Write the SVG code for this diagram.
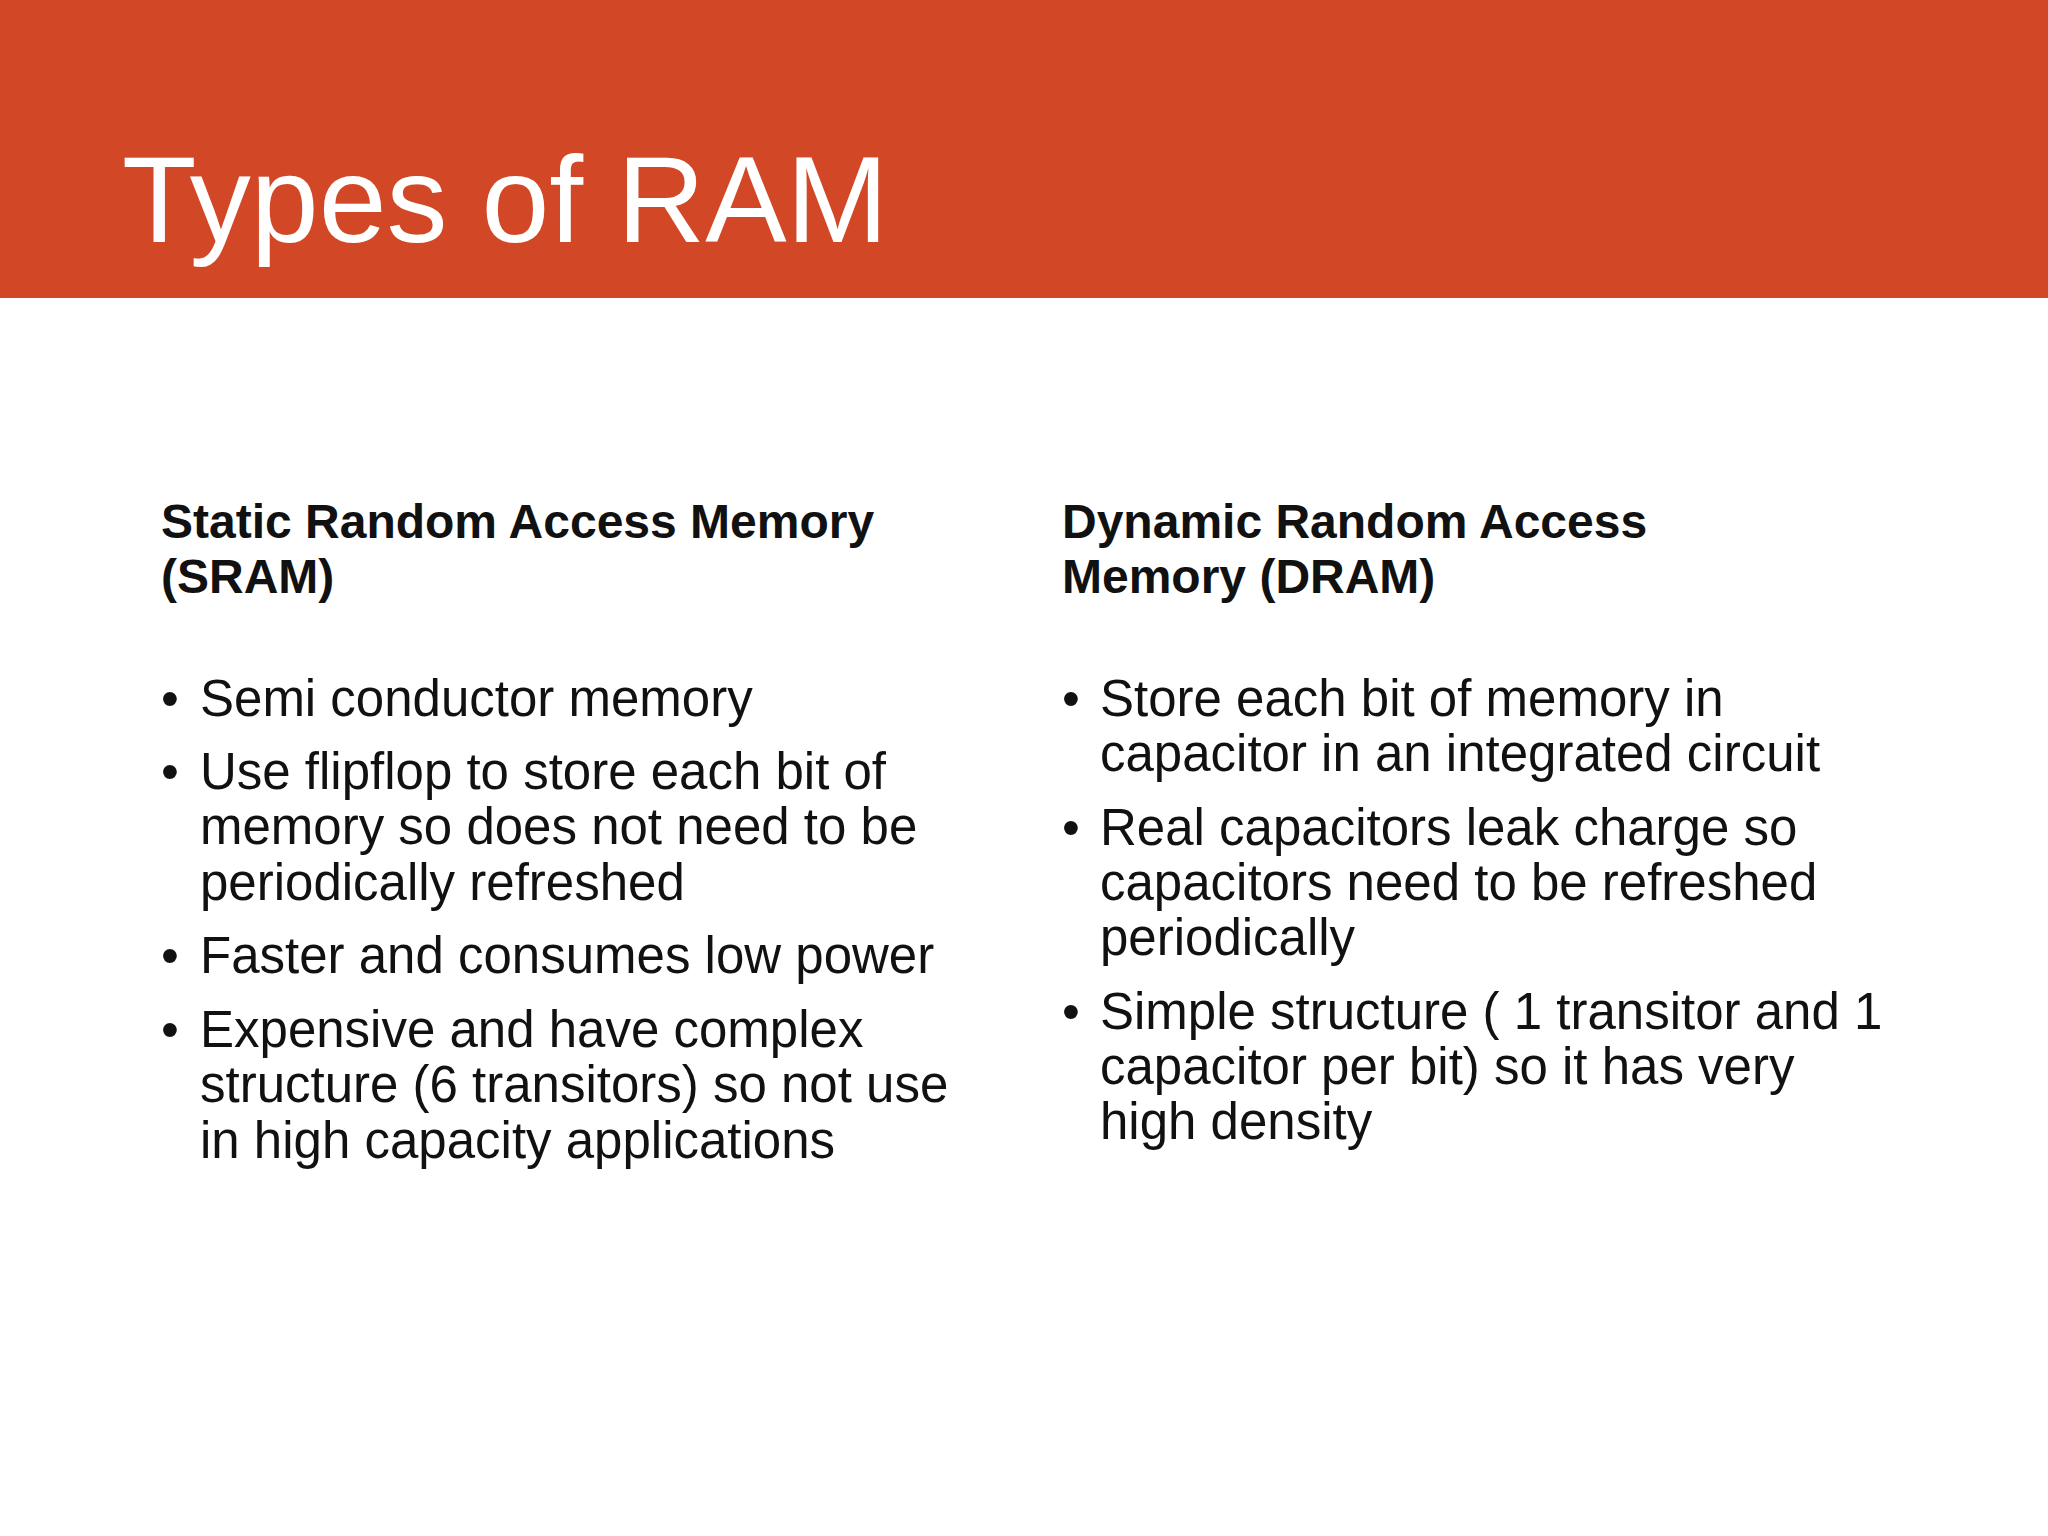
<svg xmlns="http://www.w3.org/2000/svg" width="2048" height="1536" viewBox="0 0 2048 1536">
<style>
.t{font-family:"Liberation Sans",Arial,sans-serif;fill:#111}
.h{font-size:48px;font-weight:bold}
.b{font-size:51px}
</style>
<rect width="2048" height="1536" fill="#fff"/>
<rect width="2048" height="298" fill="#D24726"/>
<text x="122" y="242" font-family="Liberation Sans,Arial,sans-serif" font-size="122" fill="#fff">Types of RAM</text>
<g id="sram" class="t">
<text class="h" x="161" y="538">Static Random Access Memory</text>
<text class="h" x="161" y="593">(SRAM)</text>
<g class="b">
<text x="161" y="716">•</text><text x="200" y="716">Semi conductor memory</text>
<text x="161" y="789">•</text><text x="200" y="789">Use flipflop to store each bit of</text>
<text x="200" y="844">memory so does not need to be</text>
<text x="200" y="900">periodically refreshed</text>
<text x="161" y="973">•</text><text x="200" y="973">Faster and consumes low power</text>
<text x="161" y="1047">•</text><text x="200" y="1047">Expensive and have complex</text>
<text x="200" y="1102">structure (6 transitors) so not use</text>
<text x="200" y="1158">in high capacity applications</text>
</g>
</g>
<g id="dram" class="t">
<text class="h" x="1062" y="538">Dynamic Random Access</text>
<text class="h" x="1062" y="593">Memory (DRAM)</text>
<g class="b">
<text x="1062" y="716">•</text><text x="1100" y="716">Store each bit of memory in</text>
<text x="1100" y="771">capacitor in an integrated circuit</text>
<text x="1062" y="845">•</text><text x="1100" y="845">Real capacitors leak charge so</text>
<text x="1100" y="900">capacitors need to be refreshed</text>
<text x="1100" y="955">periodically</text>
<text x="1062" y="1029">•</text><text x="1100" y="1029">Simple structure ( 1 transitor and 1</text>
<text x="1100" y="1084">capacitor per bit) so it has very</text>
<text x="1100" y="1139">high density</text>
</g>
</g>
</svg>
